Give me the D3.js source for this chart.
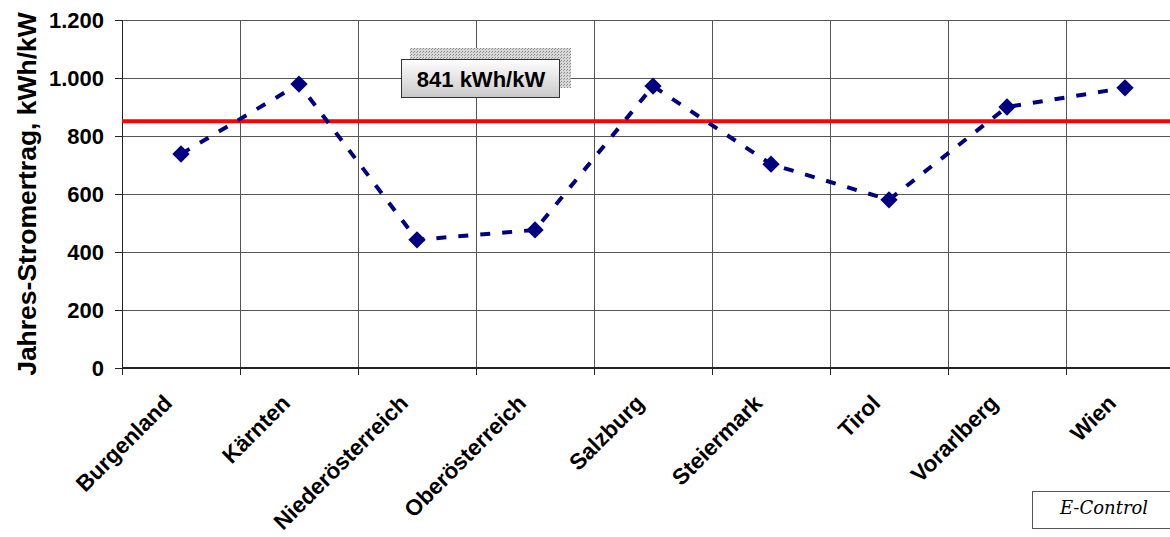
<!DOCTYPE html>
<html>
<head>
<meta charset="utf-8">
<script src="https://cdn.jsdelivr.net/npm/d3@7"></script>
<style>
  body { margin: 0; background: #fff; }
</style>
</head>
<body>
<div id="chart"></div>
<script>
var w = 1170;
var h = 537;

var margin = { top: 20, left: 122, right: -14, bottom: 169 };
var width = w - margin.left - margin.right;
var height = h - margin.top - margin.bottom;

var regions = ["Burgenland", "Kärnten", "Niederösterreich", "Oberösterreich", "Salzburg",
  "Steiermark", "Tirol", "Vorarlberg", "Wien"];
var ertrag = [738, 979, 442, 476, 972, 703, 580, 900, 966];
var yTicks = [0, 200, 400, 600, 800, 1000, 1200];
var average = 851;
var averageLabel = "841 kWh/kW";

var sans = "Arial, 'Liberation Sans', sans-serif";

var x = d3.scaleBand().domain(regions).range([0, width]);
var y = d3.scaleLinear().domain([0, 1200]).range([height, 0]);

var svg = d3.select("#chart").append("svg")
  .attr("width", w)
  .attr("height", h)
  .attr("font-family", sans);

var defs = svg.append("defs");
var pat = defs.append("pattern").attr("id", "dots")
  .attr("width", 3).attr("height", 3).attr("patternUnits", "userSpaceOnUse");
pat.append("rect").attr("width", 3).attr("height", 3).attr("fill", "#d8d8d8");
pat.append("rect").attr("width", 1).attr("height", 1).attr("fill", "#888");
pat.append("rect").attr("x", 2).attr("y", 1).attr("width", 1).attr("height", 1).attr("fill", "#a0a0a0");
var grad = defs.append("linearGradient").attr("id", "boxgrad")
  .attr("x1", 0).attr("y1", 0).attr("x2", 0).attr("y2", 1);
grad.append("stop").attr("offset", "0%").attr("stop-color", "#ffffff");
grad.append("stop").attr("offset", "100%").attr("stop-color", "#c8c8c8");

var chart = svg.append("g").attr("transform", "translate(" + margin.left + "," + margin.top + ")");

// horizontal gridlines
chart.append("g")
  .selectAll("line")
  .data(yTicks.slice(1))
  .join("line")
  .attr("x1", 0).attr("x2", width)
  .attr("y1", d => y(d)).attr("y2", d => y(d))
  .attr("stroke", "#555").attr("stroke-width", 1)
  .attr("shape-rendering", "crispEdges");

// vertical gridlines at category boundaries
chart.append("g")
  .selectAll("line")
  .data(regions.slice(1))
  .join("line")
  .attr("x1", d => x(d)).attr("x2", d => x(d))
  .attr("y1", 0).attr("y2", height)
  .attr("stroke", "#555").attr("stroke-width", 1)
  .attr("shape-rendering", "crispEdges");

// y axis
var yAxis = chart.append("g")
  .call(d3.axisLeft(y).tickValues(yTicks).tickSize(7).tickPadding(11)
    .tickFormat(d => d3.format(",")(d).replace(",", ".")));
yAxis.select(".domain").attr("stroke", "#222").attr("d", "M0,0V" + (height + 7))
  .attr("shape-rendering", "crispEdges");
yAxis.selectAll(".tick line").attr("stroke", "#222").attr("shape-rendering", "crispEdges");
yAxis.selectAll("text")
  .attr("font-size", 22).attr("font-weight", "bold").attr("fill", "#000")
  .attr("font-family", sans);

// x axis
var xAxis = chart.append("g").attr("transform", "translate(0," + height + ")")
  .call(d3.axisBottom(x).tickSize(0).tickPadding(0));
xAxis.select(".domain").attr("stroke", "#222").attr("stroke-width", 2).attr("d", "M0,0H" + width);
xAxis.selectAll(".tick text")
  .attr("font-size", 22.5).attr("font-weight", "bold").attr("fill", "#000")
  .attr("font-family", sans)
  .attr("text-anchor", "end")
  .attr("transform", "translate(-13,31) rotate(-45)")
  .attr("dy", "0.35em");
chart.append("g")
  .selectAll("line")
  .data(regions)
  .join("line")
  .attr("x1", d => x(d)).attr("x2", d => x(d))
  .attr("y1", height).attr("y2", height + 7)
  .attr("stroke", "#222")
  .attr("shape-rendering", "crispEdges");

// average line
chart.append("line")
  .attr("x1", 0).attr("x2", width)
  .attr("y1", y(average)).attr("y2", y(average))
  .attr("stroke", "#ff0000").attr("stroke-width", 4);

// data line
var line = d3.line()
  .x((d, i) => x(regions[i]) + x.bandwidth() / 2)
  .y(d => y(d));

chart.append("path")
  .datum(ertrag)
  .attr("d", line)
  .attr("fill", "none")
  .attr("stroke", "#000080")
  .attr("stroke-width", 4)
  .attr("stroke-dasharray", "10,12");

chart.selectAll(".pt")
  .data(ertrag)
  .join("path")
  .attr("class", "pt")
  .attr("d", d3.symbol(d3.symbolSquare, 150))
  .attr("transform", (d, i) => "translate(" + (x(regions[i]) + x.bandwidth() / 2) + "," + y(d) + ") rotate(45)")
  .attr("fill", "#000080");

// label box for the average
var lb = svg.append("g");
lb.append("rect").attr("x", 410).attr("y", 48).attr("width", 161).attr("height", 40)
  .attr("fill", "url(#dots)");
lb.append("rect").attr("x", 401.5).attr("y", 59.5).attr("width", 158).attr("height", 38)
  .attr("fill", "url(#boxgrad)").attr("stroke", "#333").attr("stroke-width", 1);
lb.append("text").attr("x", 481).attr("y", 79).attr("dy", "0.35em")
  .attr("text-anchor", "middle").attr("font-size", 22).attr("font-weight", "bold")
  .text(averageLabel);

// y axis title
svg.append("text")
  .attr("transform", "translate(36,194) rotate(-90)")
  .attr("text-anchor", "middle")
  .attr("font-size", 26.5).attr("font-weight", "bold")
  .text("Jahres-Stromertrag, kWh/kW");

// source box
svg.append("rect").attr("x", 1032.5).attr("y", 491.5).attr("width", 150).attr("height", 37)
  .attr("fill", "#fff").attr("stroke", "#555");
svg.append("text").attr("x", 1104).attr("y", 508).attr("dy", "0.35em")
  .attr("text-anchor", "middle").attr("font-size", 18).attr("font-style", "italic")
  .attr("font-family", "'DejaVu Serif', 'Liberation Serif', serif")
  .text("E-Control");
</script>
</body>
</html>
